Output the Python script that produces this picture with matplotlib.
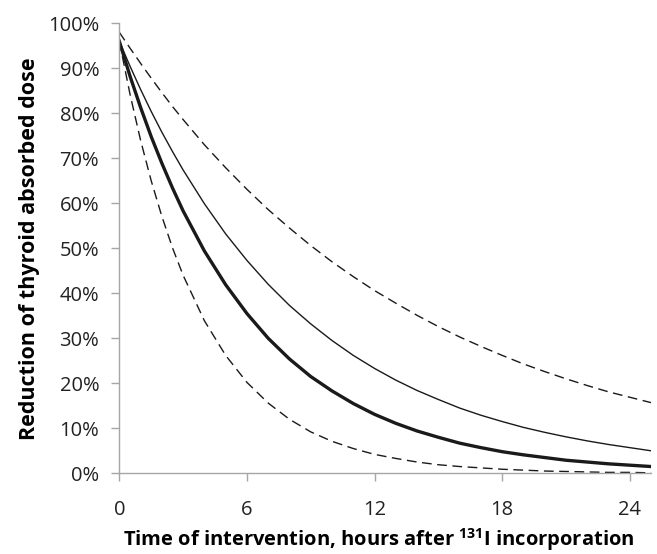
import matplotlib
matplotlib.use('Agg')
import matplotlib.pyplot as plt
from matplotlib.ticker import PercentFormatter

plt.rcParams['font.family'] = ['Open Sans', 'DejaVu Sans']
plt.rcParams['mathtext.fontset'] = 'custom'
plt.rcParams['mathtext.rm'] = 'Open Sans'
plt.rcParams['mathtext.bf'] = 'Open Sans:bold'

# hours after incorporation
hours = [0, 0.5, 1, 1.5, 2, 2.5, 3, 4, 5, 6, 7, 8, 9, 10, 11, 12,
         13, 14, 15, 16, 17, 18, 19, 20, 21, 22, 23, 24, 25]

# reduction of absorbed dose, percent
central = [96.0, 88.3, 81.3, 74.8, 68.9, 63.4, 58.3, 49.4, 41.9, 35.5, 30.0, 25.4,
           21.5, 18.3, 15.5, 13.1, 11.1, 9.4, 8.0, 6.7, 5.7, 4.8, 4.1, 3.5, 2.9,
           2.5, 2.1, 1.8, 1.5]
slow = [96.0, 90.5, 85.3, 80.4, 75.8, 71.5, 67.4, 59.9, 53.2, 47.3, 42.0, 37.3,
        33.2, 29.5, 26.2, 23.3, 20.7, 18.4, 16.4, 14.5, 12.9, 11.5, 10.2, 9.1, 8.1,
        7.2, 6.4, 5.7, 5.0]
upper = [98.0, 94.5, 91.1, 87.8, 84.6, 81.5, 78.6, 73.0, 67.9, 63.1, 58.6, 54.5,
         50.6, 47.0, 43.7, 40.6, 37.8, 35.1, 32.6, 30.3, 28.2, 26.2, 24.3, 22.6, 21.0,
         19.5, 18.1, 16.9, 15.7]
lower = [96.0, 84.3, 74.0, 65.0, 57.1, 50.1, 44.0, 33.9, 26.2, 20.2, 15.6, 12.0,
         9.2, 7.1, 5.5, 4.2, 3.3, 2.5, 1.9, 1.5, 1.2, 0.9, 0.7, 0.5, 0.4,
         0.3, 0.2, 0.2, 0.1]

x_ticks = [0, 6, 12, 18, 24]
y_ticks = list(range(0, 101, 10))

fig = plt.figure(figsize=(6.57, 5.54), dpi=100)
ax = fig.add_axes([0.1816, 0.1457, 0.8093, 0.8123])

ink = '#1a1a1a'
ax.plot(hours, upper, color=ink, lw=1.0, dashes=(7, 4))
ax.plot(hours, lower, color=ink, lw=1.0, dashes=(7, 4))
ax.plot(hours, slow, color=ink, lw=1.0)
ax.plot(hours, central, color=ink, lw=2.4)

ax.set_xlim(0, 25)
ax.set_ylim(0, 100)
ax.set_xticks(x_ticks)
ax.set_yticks(y_ticks)
ax.yaxis.set_major_formatter(PercentFormatter(decimals=0))

for side in ['top', 'right']:
    ax.spines[side].set_visible(False)
for side in ['left', 'bottom']:
    ax.spines[side].set_color('#a6a6a6')
    ax.spines[side].set_linewidth(1.0)

ax.tick_params(axis='both', direction='out', length=5.5, width=1.0,
               color='#a6a6a6', labelsize=14.5, labelcolor='#222222')
ax.tick_params(axis='x', pad=14)
ax.tick_params(axis='y', pad=9)

ax.set_ylabel('Reduction of thyroid absorbed dose', fontsize=15.5,
              fontweight='bold', labelpad=6)
ax.set_xlabel(r'Time of intervention, hours after $^{\mathbf{131}}$I incorporation',
              fontsize=14.5, fontweight='bold')
# label sits a little left of the axes centre in the original
ax.xaxis.set_label_coords(0.488, -0.117)

plt.savefig('out.png', dpi=100)
plt.close()
